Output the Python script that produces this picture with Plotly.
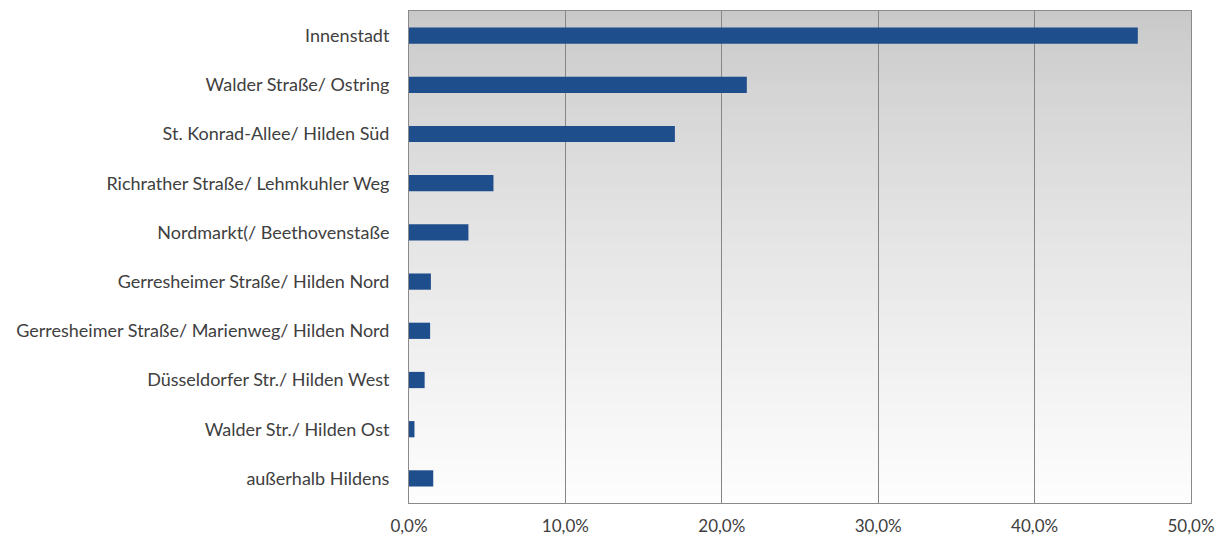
import plotly.graph_objects as go

# Share of responses by district (percent)
districts = [
    "Innenstadt",
    "Walder Straße/ Ostring",
    "St. Konrad-Allee/ Hilden Süd",
    "Richrather Straße/ Lehmkuhler Weg",
    "Nordmarkt(/ Beethovenstaße",
    "Gerresheimer Straße/ Hilden Nord",
    "Gerresheimer Straße/ Marienweg/ Hilden Nord",
    "Düsseldorfer Str./ Hilden West",
    "Walder Str./ Hilden Ost",
    "außerhalb Hildens",
]
shares = [46.6, 21.6, 17.0, 5.4, 3.8, 1.4, 1.35, 1.0, 0.35, 1.55]

tick_values = [0, 10, 20, 30, 40, 50]
tick_labels = ["0,0%", "10,0%", "20,0%", "30,0%", "40,0%", "50,0%"]

fig = go.Figure(
    go.Bar(
        x=shares,
        y=districts,
        orientation="h",
        width=0.33,
        marker=dict(color="#1f4e8c", line=dict(width=0)),
    )
)

# Vertical grey-to-white gradient behind the plot area
steps = 80
shapes = []
for i in range(steps):
    t = i / (steps - 1)
    g = int(round(200 + (253 - 200) * (t ** 0.8)))
    shapes.append(dict(
        type="rect", xref="x domain", yref="y domain",
        x0=0, x1=1, y0=1 - (i + 1) / steps, y1=1 - i / steps + 0.002,
        fillcolor=f"rgb({g},{g},{g})", line=dict(width=0), layer="below",
    ))

fig.update_layout(
    width=1226, height=540,
    margin=dict(l=409, r=35, t=11, b=37),
    paper_bgcolor="white",
    plot_bgcolor="white",
    shapes=shapes,
    showlegend=False,
    bargap=0.67,
    font=dict(family="Lato, 'Open Sans', sans-serif", size=18, color="#404040"),
    xaxis=dict(
        range=[0, 50], tickvals=tick_values, ticktext=tick_labels,
        showgrid=True, gridcolor="#868686", gridwidth=1,
        showline=True, linecolor="#8a8a8a", linewidth=1, mirror=True,
        zeroline=False, ticks="", ticklabelstandoff=8, automargin=False,
        tickfont=dict(size=17, color="#404040"),
    ),
    yaxis=dict(
        autorange="reversed", showgrid=False,
        showline=True, linecolor="#8a8a8a", linewidth=1, mirror=True,
        ticks="", ticklabelstandoff=15, automargin=False,
        tickfont=dict(size=18, color="#404040"),
    ),
)

fig.write_html("out.html")
